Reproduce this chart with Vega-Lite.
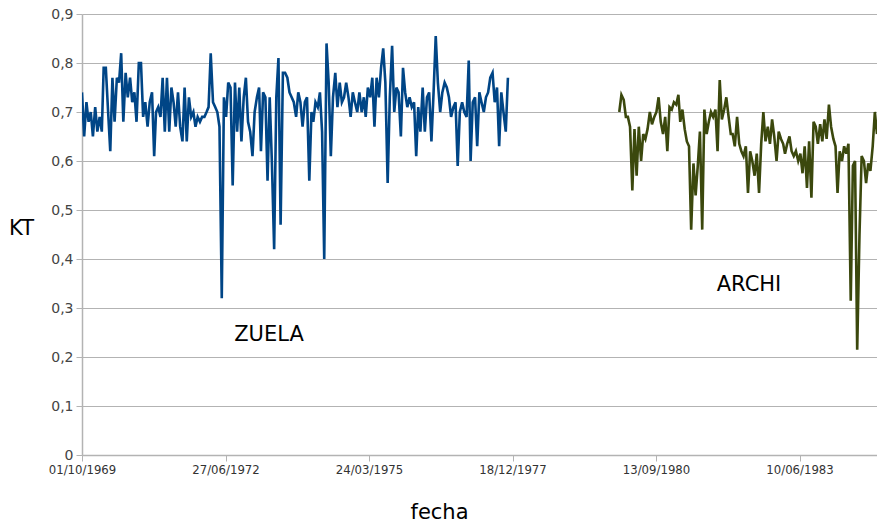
{
"$schema": "https://vega.github.io/schema/vega-lite/v6.json",
"width": 795, "height": 441,
"autosize": {"type": "none"},
"padding": {"left": 82, "top": 14, "right": 0, "bottom": 70},
"background": "white",
"config": {"view": {"stroke": null}, "font": "DejaVu Sans"},
"datasets": {
"zuela": [
{"d":"1969-10-01","v":0.74},{"d":"1969-10-16","v":0.65},{"d":"1969-11-01","v":0.72},{"d":"1969-11-16","v":0.68},{"d":"1969-12-01","v":0.70},{"d":"1969-12-16","v":0.65},
{"d":"1970-01-01","v":0.71},{"d":"1970-01-16","v":0.66},{"d":"1970-02-01","v":0.69},{"d":"1970-02-16","v":0.66},{"d":"1970-03-01","v":0.79},{"d":"1970-03-16","v":0.79},
{"d":"1970-04-01","v":0.70},{"d":"1970-04-16","v":0.62},{"d":"1970-05-01","v":0.77},{"d":"1970-05-16","v":0.68},{"d":"1970-06-01","v":0.77},{"d":"1970-06-16","v":0.76},
{"d":"1970-07-01","v":0.82},{"d":"1970-07-16","v":0.68},{"d":"1970-08-01","v":0.78},{"d":"1970-08-16","v":0.73},{"d":"1970-09-01","v":0.77},{"d":"1970-09-16","v":0.72},
{"d":"1970-10-01","v":0.74},{"d":"1970-10-16","v":0.68},{"d":"1970-11-01","v":0.80},{"d":"1970-11-16","v":0.80},{"d":"1970-12-01","v":0.69},{"d":"1970-12-16","v":0.72},
{"d":"1971-01-01","v":0.67},{"d":"1971-01-16","v":0.72},{"d":"1971-02-01","v":0.74},{"d":"1971-02-16","v":0.61},{"d":"1971-03-01","v":0.70},{"d":"1971-03-16","v":0.71},
{"d":"1971-04-01","v":0.69},{"d":"1971-04-16","v":0.77},{"d":"1971-05-01","v":0.66},{"d":"1971-05-16","v":0.77},{"d":"1971-06-01","v":0.66},{"d":"1971-06-16","v":0.75},
{"d":"1971-07-01","v":0.72},{"d":"1971-07-16","v":0.67},{"d":"1971-08-01","v":0.74},{"d":"1971-08-16","v":0.67},{"d":"1971-09-01","v":0.64},{"d":"1971-09-16","v":0.75},
{"d":"1971-10-01","v":0.64},{"d":"1971-10-16","v":0.73},{"d":"1971-11-01","v":0.69},{"d":"1971-11-16","v":0.70},{"d":"1971-12-01","v":0.67},{"d":"1971-12-16","v":0.69},
{"d":"1972-01-01","v":0.68},{"d":"1972-01-16","v":0.69},{"d":"1972-02-01","v":0.69},{"d":"1972-02-16","v":0.70},{"d":"1972-03-01","v":0.71},{"d":"1972-03-16","v":0.82},
{"d":"1972-04-01","v":0.72},{"d":"1972-04-16","v":0.71},{"d":"1972-05-01","v":0.70},{"d":"1972-05-16","v":0.67},{"d":"1972-06-01","v":0.32},{"d":"1972-06-16","v":0.73},
{"d":"1972-07-01","v":0.69},{"d":"1972-07-16","v":0.76},{"d":"1972-08-01","v":0.75},{"d":"1972-08-16","v":0.55},{"d":"1972-09-01","v":0.76},{"d":"1972-09-16","v":0.66},
{"d":"1972-10-01","v":0.75},{"d":"1972-10-16","v":0.64},{"d":"1972-11-01","v":0.73},{"d":"1972-11-16","v":0.77},{"d":"1972-12-01","v":0.68},{"d":"1972-12-16","v":0.66},
{"d":"1973-01-01","v":0.61},{"d":"1973-01-16","v":0.70},{"d":"1973-02-01","v":0.73},{"d":"1973-02-16","v":0.75},{"d":"1973-03-01","v":0.62},{"d":"1973-03-16","v":0.74},
{"d":"1973-04-01","v":0.73},{"d":"1973-04-16","v":0.56},{"d":"1973-05-01","v":0.73},{"d":"1973-05-16","v":0.60},{"d":"1973-06-01","v":0.42},{"d":"1973-06-16","v":0.73},
{"d":"1973-07-01","v":0.81},{"d":"1973-07-16","v":0.47},{"d":"1973-08-01","v":0.78},{"d":"1973-08-16","v":0.78},{"d":"1973-09-01","v":0.77},{"d":"1973-09-16","v":0.74},
{"d":"1973-10-01","v":0.73},{"d":"1973-10-16","v":0.72},{"d":"1973-11-01","v":0.69},{"d":"1973-11-16","v":0.74},{"d":"1973-12-01","v":0.72},{"d":"1973-12-16","v":0.67},
{"d":"1974-01-01","v":0.72},{"d":"1974-01-16","v":0.73},{"d":"1974-02-01","v":0.56},{"d":"1974-02-16","v":0.70},{"d":"1974-03-01","v":0.68},{"d":"1974-03-16","v":0.72},
{"d":"1974-04-01","v":0.71},{"d":"1974-04-16","v":0.74},{"d":"1974-05-01","v":0.66},{"d":"1974-05-16","v":0.40},{"d":"1974-06-01","v":0.84},{"d":"1974-06-16","v":0.76},
{"d":"1974-07-01","v":0.61},{"d":"1974-07-16","v":0.73},{"d":"1974-08-01","v":0.78},{"d":"1974-08-16","v":0.71},{"d":"1974-09-01","v":0.76},{"d":"1974-09-16","v":0.72},
{"d":"1974-10-01","v":0.73},{"d":"1974-10-16","v":0.76},{"d":"1974-11-01","v":0.73},{"d":"1974-11-16","v":0.69},{"d":"1974-12-01","v":0.74},{"d":"1974-12-16","v":0.72},
{"d":"1975-01-01","v":0.70},{"d":"1975-01-16","v":0.74},{"d":"1975-02-01","v":0.70},{"d":"1975-02-16","v":0.73},{"d":"1975-03-01","v":0.69},{"d":"1975-03-16","v":0.75},
{"d":"1975-04-01","v":0.73},{"d":"1975-04-16","v":0.77},{"d":"1975-05-01","v":0.67},{"d":"1975-05-16","v":0.77},{"d":"1975-06-01","v":0.73},{"d":"1975-06-16","v":0.79},
{"d":"1975-07-01","v":0.83},{"d":"1975-07-16","v":0.76},{"d":"1975-08-01","v":0.555},{"d":"1975-08-16","v":0.73},{"d":"1975-09-01","v":0.835},{"d":"1975-09-16","v":0.70},
{"d":"1975-10-01","v":0.75},{"d":"1975-10-16","v":0.74},{"d":"1975-11-01","v":0.65},{"d":"1975-11-16","v":0.79},{"d":"1975-12-01","v":0.74},{"d":"1975-12-16","v":0.71},
{"d":"1976-01-01","v":0.73},{"d":"1976-01-16","v":0.71},{"d":"1976-02-01","v":0.72},{"d":"1976-02-16","v":0.61},{"d":"1976-03-01","v":0.71},{"d":"1976-03-16","v":0.66},
{"d":"1976-04-01","v":0.75},{"d":"1976-04-16","v":0.66},{"d":"1976-05-01","v":0.73},{"d":"1976-05-16","v":0.74},{"d":"1976-06-01","v":0.64},{"d":"1976-06-16","v":0.74},
{"d":"1976-07-01","v":0.855},{"d":"1976-07-16","v":0.76},{"d":"1976-08-01","v":0.70},{"d":"1976-08-16","v":0.74},{"d":"1976-09-01","v":0.76},{"d":"1976-09-16","v":0.75},
{"d":"1976-10-01","v":0.73},{"d":"1976-10-16","v":0.69},{"d":"1976-11-01","v":0.71},{"d":"1976-11-16","v":0.72},{"d":"1976-12-01","v":0.59},{"d":"1976-12-16","v":0.70},
{"d":"1977-01-01","v":0.72},{"d":"1977-01-16","v":0.70},{"d":"1977-02-01","v":0.69},{"d":"1977-02-16","v":0.805},{"d":"1977-03-01","v":0.60},{"d":"1977-03-16","v":0.72},
{"d":"1977-04-01","v":0.73},{"d":"1977-04-16","v":0.63},{"d":"1977-05-01","v":0.74},{"d":"1977-05-16","v":0.72},{"d":"1977-06-01","v":0.70},{"d":"1977-06-16","v":0.73},
{"d":"1977-07-01","v":0.74},{"d":"1977-07-16","v":0.77},{"d":"1977-08-01","v":0.78},{"d":"1977-08-16","v":0.72},{"d":"1977-09-01","v":0.75},{"d":"1977-09-16","v":0.63},
{"d":"1977-10-01","v":0.74},{"d":"1977-10-16","v":0.70},{"d":"1977-11-01","v":0.66},{"d":"1977-11-16","v":0.77}
],
"archi": [
{"d":"1980-01-01","v":0.70},{"d":"1980-01-16","v":0.735},{"d":"1980-02-01","v":0.725},{"d":"1980-02-16","v":0.69},{"d":"1980-03-01","v":0.69},{"d":"1980-03-16","v":0.67},
{"d":"1980-04-01","v":0.54},{"d":"1980-04-16","v":0.665},{"d":"1980-05-01","v":0.57},{"d":"1980-05-16","v":0.67},{"d":"1980-06-01","v":0.60},{"d":"1980-06-16","v":0.655},
{"d":"1980-07-01","v":0.645},{"d":"1980-07-16","v":0.665},{"d":"1980-08-01","v":0.70},{"d":"1980-08-16","v":0.675},{"d":"1980-09-01","v":0.69},{"d":"1980-09-16","v":0.70},
{"d":"1980-10-01","v":0.73},{"d":"1980-10-16","v":0.68},{"d":"1980-11-01","v":0.655},{"d":"1980-11-16","v":0.69},{"d":"1980-12-01","v":0.62},{"d":"1980-12-16","v":0.71},
{"d":"1981-01-01","v":0.705},{"d":"1981-01-16","v":0.72},{"d":"1981-02-01","v":0.715},{"d":"1981-02-16","v":0.735},{"d":"1981-03-01","v":0.68},{"d":"1981-03-16","v":0.705},
{"d":"1981-04-01","v":0.665},{"d":"1981-04-16","v":0.64},{"d":"1981-05-01","v":0.63},{"d":"1981-05-16","v":0.46},{"d":"1981-06-01","v":0.595},{"d":"1981-06-16","v":0.53},
{"d":"1981-07-01","v":0.59},{"d":"1981-07-16","v":0.66},{"d":"1981-08-01","v":0.46},{"d":"1981-08-16","v":0.705},{"d":"1981-09-01","v":0.655},{"d":"1981-09-16","v":0.68},
{"d":"1981-10-01","v":0.70},{"d":"1981-10-16","v":0.69},{"d":"1981-11-01","v":0.705},{"d":"1981-11-16","v":0.62},{"d":"1981-12-01","v":0.765},{"d":"1981-12-16","v":0.685},
{"d":"1982-01-01","v":0.705},{"d":"1982-01-16","v":0.73},{"d":"1982-02-01","v":0.69},{"d":"1982-02-16","v":0.655},{"d":"1982-03-01","v":0.655},{"d":"1982-03-16","v":0.63},
{"d":"1982-04-01","v":0.69},{"d":"1982-04-16","v":0.635},{"d":"1982-05-01","v":0.62},{"d":"1982-05-16","v":0.61},{"d":"1982-06-01","v":0.63},{"d":"1982-06-16","v":0.535},
{"d":"1982-07-01","v":0.62},{"d":"1982-07-16","v":0.60},{"d":"1982-08-01","v":0.57},{"d":"1982-08-16","v":0.615},{"d":"1982-09-01","v":0.535},{"d":"1982-09-16","v":0.635},
{"d":"1982-10-01","v":0.70},{"d":"1982-10-16","v":0.64},{"d":"1982-11-01","v":0.67},{"d":"1982-11-16","v":0.635},{"d":"1982-12-01","v":0.685},{"d":"1982-12-16","v":0.65},
{"d":"1983-01-01","v":0.60},{"d":"1983-01-16","v":0.66},{"d":"1983-02-01","v":0.645},{"d":"1983-02-16","v":0.635},{"d":"1983-03-01","v":0.615},{"d":"1983-03-16","v":0.635},
{"d":"1983-04-01","v":0.65},{"d":"1983-04-16","v":0.62},{"d":"1983-05-01","v":0.61},{"d":"1983-05-16","v":0.62},{"d":"1983-06-01","v":0.60},{"d":"1983-06-16","v":0.615},
{"d":"1983-07-01","v":0.575},{"d":"1983-07-16","v":0.63},{"d":"1983-08-01","v":0.545},{"d":"1983-08-16","v":0.64},{"d":"1983-09-01","v":0.525},{"d":"1983-09-16","v":0.68},
{"d":"1983-10-01","v":0.67},{"d":"1983-10-16","v":0.635},{"d":"1983-11-01","v":0.675},{"d":"1983-11-16","v":0.64},{"d":"1983-12-01","v":0.685},{"d":"1983-12-16","v":0.645},
{"d":"1984-01-01","v":0.715},{"d":"1984-01-16","v":0.67},{"d":"1984-02-01","v":0.645},{"d":"1984-02-16","v":0.63},{"d":"1984-03-01","v":0.535},{"d":"1984-03-16","v":0.62},
{"d":"1984-04-01","v":0.60},{"d":"1984-04-16","v":0.63},{"d":"1984-05-01","v":0.615},{"d":"1984-05-16","v":0.635},{"d":"1984-06-01","v":0.315},{"d":"1984-06-16","v":0.59},
{"d":"1984-07-01","v":0.60},{"d":"1984-07-16","v":0.215},{"d":"1984-08-01","v":0.45},{"d":"1984-08-16","v":0.61},{"d":"1984-09-01","v":0.60},{"d":"1984-09-16","v":0.555},
{"d":"1984-10-01","v":0.595},{"d":"1984-10-16","v":0.58},{"d":"1984-11-01","v":0.63},{"d":"1984-11-16","v":0.70},{"d":"1984-12-01","v":0.655}
],
"labels": [
{"d":"1973-04-26","v":0.245,"t":"ZUELA"},
{"d":"1982-06-23","v":0.347,"t":"ARCHI"}
]
},
"encoding": {
"x": {"field": "d", "type": "temporal",
 "scale": {"type": "utc", "domain": [{"year":1969,"month":10,"date":1,"utc":true},{"year":1984,"month":12,"date":1,"utc":true}]},
 "axis": {"values": [{"year":1969,"month":10,"date":1,"utc":true},{"year":1972,"month":6,"date":27,"utc":true},{"year":1975,"month":3,"date":24,"utc":true},{"year":1977,"month":12,"date":18,"utc":true},{"year":1980,"month":9,"date":13,"utc":true},{"year":1983,"month":6,"date":10,"utc":true}],
  "labelExpr": "utcFormat(datum.value, '%d/%m/%Y')", "grid": false,
  "domainColor": "#b3b3b3", "domainWidth": 1.5, "tickColor": "#b3b3b3", "tickSize": 6,
  "labelFont": "DejaVu Sans Condensed, DejaVu Sans", "labelFontSize": 13, "labelColor": "#333333", "labelPadding": 2,
  "labelOverlap": false, "labelFlush": false,
  "title": "fecha", "titleX": 357, "titleY": 57, "titleAlign": "center", "titleBaseline": "middle",
  "titleFont": "DejaVu Sans", "titleFontSize": 21, "titleFontWeight": "normal", "titleColor": "#000000"}},
"y": {"field": "v", "type": "quantitative",
 "scale": {"domain": [0, 0.9], "nice": false, "zero": false},
 "axis": {"values": [0, 0.1, 0.2, 0.3, 0.4, 0.5, 0.6, 0.7, 0.8, 0.9],
  "labelExpr": "replace(format(datum.value, '.1~f'), '.', ',')",
  "grid": true, "gridColor": "#b3b3b3", "gridWidth": 1.2,
  "domainColor": "#b3b3b3", "domainWidth": 1.5, "tickColor": "#b3b3b3", "tickSize": 6,
  "labelFont": "DejaVu Sans", "labelFontSize": 14, "labelColor": "#444444", "labelPadding": 3,
  "title": "KT", "titleAngle": 0, "titleX": -61, "titleY": 214, "titleAlign": "center", "titleBaseline": "middle",
  "titleFont": "DejaVu Sans", "titleFontSize": 21, "titleFontWeight": "normal", "titleColor": "#000000"}}
},
"layer": [
{"data": {"name": "zuela"}, "mark": {"type": "line", "color": "#004586", "strokeWidth": 2.6, "clip": true}},
{"data": {"name": "archi"}, "mark": {"type": "line", "color": "#3b480d", "strokeWidth": 2.6, "clip": true}},
{"data": {"name": "labels"}, "mark": {"type": "text", "font": "DejaVu Sans", "fontSize": 21, "color": "#000000", "align": "center", "baseline": "middle"},
 "encoding": {"text": {"field": "t"}}}
]
}
